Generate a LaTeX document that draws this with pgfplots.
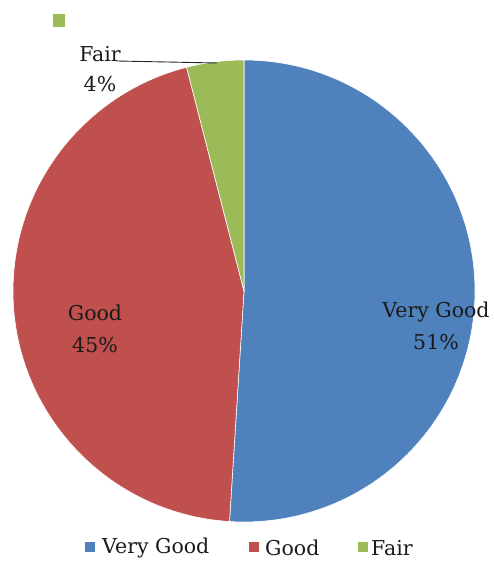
\documentclass[border=0pt]{standalone}
\usepackage{pgfplots}
\usepackage{pgfplotstable}
\pgfplotsset{compat=1.18}
\usepackage{fontspec}
\setmainfont{DejaVu Serif}
\definecolor{vgblue}{HTML}{4F81BD}
\definecolor{gdred}{HTML}{C0504D}
\definecolor{frgreen}{HTML}{9BBB59}
\definecolor{txt}{HTML}{1A1A1A}

\pgfplotstableread{
label value
VeryGood 51
Good 45
Fair 4
}\piedata

\begin{document}%
\begin{tikzpicture}
\pgfplotstablegetelem{0}{value}\of\piedata \global\let\va\pgfplotsretval
\pgfplotstablegetelem{1}{value}\of\piedata \global\let\vb\pgfplotsretval
\pgfplotstablegetelem{2}{value}\of\piedata \global\let\vc\pgfplotsretval
\pgfmathsetmacro{\aA}{90}\global\let\aA\aA
\pgfmathsetmacro{\aB}{90-3.6*\va}\global\let\aB\aB
\pgfmathsetmacro{\aC}{\aB-3.6*\vb}\global\let\aC\aC
\pgfmathsetmacro{\aD}{\aC-3.6*\vc}\global\let\aD\aD
\begin{axis}[
  width=494pt, height=563pt, scale only axis,
  xmin=0, xmax=494, ymin=0, ymax=563,
  hide axis, clip=false,
]
\path (axis cs:0,0) rectangle (axis cs:494,563);
% slices
\fill[vgblue, draw=white, line width=0.6pt] (axis cs:244,272) -- ++(\aA:231pt) arc[start angle=\aA, end angle=\aB, radius=231pt] -- cycle;
\fill[gdred, draw=white, line width=0.6pt] (axis cs:244,272) -- ++(\aB:231pt) arc[start angle=\aB, end angle=\aC, radius=231pt] -- cycle;
\fill[frgreen, draw=white, line width=0.6pt] (axis cs:244,272) -- ++(\aC:231pt) arc[start angle=\aC, end angle=\aD, radius=231pt] -- cycle;
% labels
\node[font=\fontsize{20.5}{32}\selectfont, text=txt, align=center] at (axis cs:436,237) {Very Good\\51\%};
\node[font=\fontsize{20.5}{32}\selectfont, text=txt, align=center] at (axis cs:95,234) {Good\\45\%};
\node[font=\fontsize{20.5}{30}\selectfont, text=txt, align=center] at (axis cs:100,494) {Fair\\4\%};
\draw[black!85, line width=0.9pt] (axis cs:117,502) -- (axis cs:217,500);
% stray legend square
\fill[frgreen] (axis cs:53,536) rectangle (axis cs:65,549);
% legend
\fill[vgblue] (axis cs:85,11) rectangle (axis cs:95,21);
\node[font=\fontsize{20.5}{24}\selectfont, text=txt, anchor=west, inner sep=0pt] at (axis cs:102,15) {Very Good};
\fill[gdred] (axis cs:249,11) rectangle (axis cs:259,21);
\node[font=\fontsize{20.5}{24}\selectfont, text=txt, anchor=west, inner sep=0pt] at (axis cs:265,15) {Good};
\fill[frgreen] (axis cs:358,11) rectangle (axis cs:368,21);
\node[font=\fontsize{20.5}{24}\selectfont, text=txt, anchor=west, inner sep=0pt] at (axis cs:371,15) {Fair};
\end{axis}
\end{tikzpicture}%
\end{document}
